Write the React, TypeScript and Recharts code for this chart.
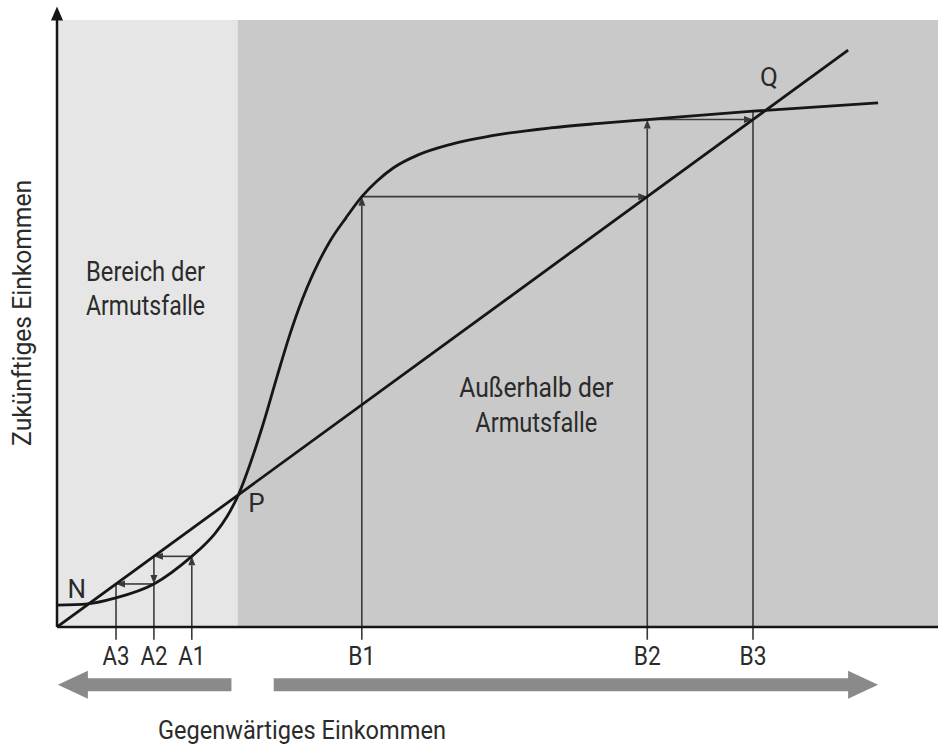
import React from 'react';
import {
  ComposedChart,
  Line,
  XAxis,
  YAxis,
  ReferenceArea,
  ReferenceLine,
  ReferenceDot,
} from 'recharts';

// current income (x) and future income (y) of the S-shaped curve
const incomeNow = [
  0, 3.5, 6.6, 11.0, 15.3, 16.6, 17.9, 19.3, 20.6, 21.9, 23.4, 25.0, 26.4, 27.4, 28.4, 29.7,
  31.0, 32.8, 34.6, 36.3, 38.2, 41.0, 44.6, 50.3, 56.0, 61.6, 67.0, 79.0, 93.2,
];
const incomeFuture = [
  3.4, 3.6, 4.5, 6.7, 11.0, 12.6, 14.5, 17.2, 20.6, 25.3, 31.6, 39.1, 45.4, 49.4, 52.9, 56.8,
  60.1, 63.7, 67.0, 69.4, 71.5, 73.5, 75.1, 76.7, 77.7, 78.4, 79.0, 80.3, 81.6,
];

// 45 degree line
const diagonalX = [0, 89.8];

// cobweb steps (each value is the next income)
const trapSteps = [15.3, 11.0, 6.7];
const escapeSteps = [34.6, 67.0, 79.0, 80.3];
const tickValues = [6.7, 11.0, 15.3, 34.6, 67.0, 79.0];
const tickLabels = ['A3', 'A2', 'A1', 'B1', 'B2', 'B3'];

// zones
const trapZone = [0, 20.5];
const escapeZone = [20.5, 100];
const yMax = 94.5;

// big arrows under the axis
const trapArrow = [19.8, 0.1];
const escapeArrow = [24.6, 93.2];

const FONT = "'Liberation Sans Narrow', Roboto, sans-serif";
const TEXT = '#2b2b2b';
const INK = '#161616';
const THIN = '#3a3a3a';

const curveData = incomeNow.map((x, i) => ({ x, y: incomeFuture[i] }));
const diagonalData = diagonalX.map((x) => ({ x, y: x }));

// line with an optional filled arrowhead at (x2, y2)
const arrowShape = (head: boolean, color = THIN, width = 1.6) => (p: any) => {
  const { x1, y1, x2, y2 } = p;
  const dx = x2 - x1;
  const dy = y2 - y1;
  const len = Math.sqrt(dx * dx + dy * dy) || 1;
  const ux = dx / len;
  const uy = dy / len;
  const hl = 9;
  const hw = 3.5;
  const bx = x2 - ux * hl;
  const by = y2 - uy * hl;
  return (
    <g>
      <line x1={x1} y1={y1} x2={head ? bx : x2} y2={head ? by : y2} stroke={color} strokeWidth={width} />
      {head && (
        <polygon
          points={`${x2},${y2} ${bx - uy * hw},${by + ux * hw} ${bx + uy * hw},${by - ux * hw}`}
          fill={color}
        />
      )}
    </g>
  );
};

// thick grey block arrow
const bigArrowShape = (p: any) => {
  const { x1, y1, x2 } = p;
  const dir = x2 > x1 ? 1 : -1;
  const hl = 30;
  const bodyH = 6.5;
  const headH = 14;
  const bx = x2 - dir * hl;
  const pts = [
    [x1, y1 - bodyH],
    [bx, y1 - bodyH],
    [bx, y1 - headH],
    [x2, y1],
    [bx, y1 + headH],
    [bx, y1 + bodyH],
    [x1, y1 + bodyH],
  ]
    .map((q) => q.join(','))
    .join(' ');
  return <polygon points={pts} fill="#8a8a8a" />;
};

const textShape = (value: string, anchor: string, size = 26, width?: number, rotate = 0) => (p: any) => (
  <text
    x={p.cx}
    y={p.cy}
    textAnchor={anchor}
    fontFamily={FONT}
    fontSize={size}
    fill={TEXT}
    textLength={width}
    lengthAdjust={width ? 'spacingAndGlyphs' : undefined}
    transform={rotate ? `rotate(${rotate} ${p.cx} ${p.cy})` : undefined}
    dominantBaseline={rotate ? 'central' : undefined}
  >
    {value}
  </text>
);

const labels: { x: number; y: number; text: string; anchor: string; size?: number; width?: number; rotate?: number }[] = [
  { x: 3.3, y: 53.9, text: 'Bereich der', anchor: 'start', size: 27, width: 119 },
  { x: 3.3, y: 48.6, text: 'Armutsfalle', anchor: 'start', size: 27, width: 119 },
  { x: 54.4, y: 35.8, text: 'Außerhalb der', anchor: 'middle', size: 27, width: 154 },
  { x: 54.4, y: 30.4, text: 'Armutsfalle', anchor: 'middle', size: 27, width: 122 },
  { x: 21.7, y: 17.9, text: 'P', anchor: 'start' },
  { x: 1.2, y: 4.5, text: 'N', anchor: 'start' },
  { x: 79.8, y: 84.3, text: 'Q', anchor: 'start' },
  { x: 27.8, y: -17.4, text: 'Gegenwärtiges Einkommen', anchor: 'middle', width: 288 },
  { x: -3.97, y: 48.9, text: 'Zukünftiges Einkommen', anchor: 'middle', width: 266, rotate: -90 },
];

const renderTick = (p: any) => {
  const i = tickValues.indexOf(p.payload.value);
  return (
    <text
      x={p.x}
      y={p.y + 38}
      textAnchor="middle"
      fontFamily={FONT}
      fontSize={26}
      fill={TEXT}
      textLength={27}
      lengthAdjust="spacingAndGlyphs"
    >
      {tickLabels[i]}
    </text>
  );
};

export default function App() {
  const below = -2;
  const [a1, a2, a3] = trapSteps;
  const [b1, b2, b3, b4] = escapeSteps;

  const segments: { s: [number, number][]; head: boolean }[] = [
    // poverty trap
    { s: [[a1, below], [a1, a2]], head: true },
    { s: [[a1, a2], [a2, a2]], head: true },
    { s: [[a2, below], [a2, a3]], head: false },
    { s: [[a2, a2], [a2, a3]], head: true },
    { s: [[a2, a3], [a3, a3]], head: true },
    { s: [[a3, below], [a3, a3]], head: false },
    // escape
    { s: [[b1, below], [b1, b2]], head: true },
    { s: [[b1, b2], [b2, b2]], head: true },
    { s: [[b2, below], [b2, b3]], head: true },
    { s: [[b2, b3], [b3, b3]], head: true },
    { s: [[b3, below], [b3, b4]], head: false },
  ];

  return (
    <div style={{ position: 'absolute', left: 0, top: 0, background: '#fff' }}>
      <ComposedChart width={938} height={746} margin={{ top: 20, right: 0, bottom: 0, left: 57 }}>
        <XAxis
          type="number"
          dataKey="x"
          domain={[0, 100]}
          ticks={tickValues}
          tick={renderTick}
          tickLine={false}
          tickSize={0}
          tickMargin={0}
          height={119}
          axisLine={{ stroke: INK, strokeWidth: 2.5 }}
          allowDataOverflow
        />
        <YAxis type="number" dataKey="y" domain={[0, yMax]} hide width={0} allowDataOverflow />

        <ReferenceArea x1={trapZone[0]} x2={trapZone[1]} y1={0} y2={yMax} fill="#e6e6e6" fillOpacity={1} stroke="none" />
        <ReferenceArea x1={escapeZone[0]} x2={escapeZone[1]} y1={0} y2={yMax} fill="#c9c9c9" fillOpacity={1} stroke="none" />

        {segments.map((seg, i) => (
          <ReferenceLine
            key={`seg-${i}`}
            segment={[{ x: seg.s[0][0], y: seg.s[0][1] }, { x: seg.s[1][0], y: seg.s[1][1] }]}
            ifOverflow="visible"
            shape={arrowShape(seg.head)}
          />
        ))}

        <Line data={diagonalData} dataKey="y" type="linear" stroke={INK} strokeWidth={2.8} dot={false} isAnimationActive={false} />
        <Line data={curveData} dataKey="y" type="monotone" stroke={INK} strokeWidth={2.8} dot={false} isAnimationActive={false} />

        {/* y axis with arrow */}
        <ReferenceLine
          segment={[{ x: 0, y: 0 }, { x: 0, y: 96.6 }]}
          ifOverflow="visible"
          shape={(p: any) => {
            const { x1, y1, x2, y2 } = p;
            return (
              <g>
                <line x1={x1} y1={y1} x2={x2} y2={y2 + 12} stroke={INK} strokeWidth={2.5} />
                <polygon points={`${x2},${y2} ${x2 - 6},${y2 + 14} ${x2 + 6},${y2 + 14}`} fill={INK} />
              </g>
            );
          }}
        />

        <ReferenceLine
          segment={[{ x: trapArrow[0], y: -9 }, { x: trapArrow[1], y: -9 }]}
          ifOverflow="visible"
          shape={bigArrowShape}
        />
        <ReferenceLine
          segment={[{ x: escapeArrow[0], y: -9 }, { x: escapeArrow[1], y: -9 }]}
          ifOverflow="visible"
          shape={bigArrowShape}
        />

        {labels.map((l, i) => (
          <ReferenceDot
            key={`lbl-${i}`}
            x={l.x}
            y={l.y}
            r={0}
            ifOverflow="visible"
            shape={textShape(l.text, l.anchor, l.size, l.width, l.rotate)}
          />
        ))}
      </ComposedChart>
    </div>
  );
}
